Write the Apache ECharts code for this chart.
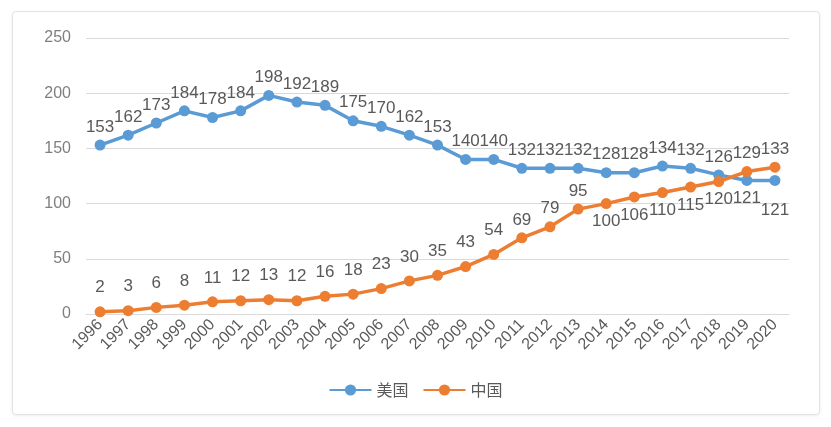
<!DOCTYPE html>
<html>
<head>
<meta charset="utf-8">
<script src="https://cdn.jsdelivr.net/npm/echarts@6/dist/echarts.min.js"></script>
<style>
  html, body { margin: 0; padding: 0; background: #fff; }
  #frame { position: absolute; left: 12px; top: 11px; width: 806px; height: 402px;
           border: 1px solid #e3e3e3; border-radius: 4px; box-shadow: 0 1px 3px rgba(0,0,0,0.08); }
  #chart { width: 831px; height: 427px; position: absolute; left: 0; top: 0; }
</style>
</head>
<body>
<div id="frame"></div>
<div id="chart"></div>
<script>
const years = ['1996','1997','1998','1999','2000','2001','2002','2003','2004','2005','2006','2007','2008',
  '2009','2010','2011','2012','2013','2014','2015','2016','2017','2018','2019','2020'];
const usValues = [153,162,173,184,178,184,198,192,189,175,170,162,153,140,140,132,132,132,128,128,134,132,126,121,121];
const cnValues = [2,3,6,8,11,12,13,12,16,18,23,30,35,43,54,69,79,95,100,106,110,115,120,129,133];
const yTicks = [0, 50, 100, 150, 200, 250];

// which labels sit under their point
const usBelow = ['2019', '2020'];
const cnBelow = ['2014', '2015', '2016', '2017', '2018'];

const labelFont = { fontSize: 17, color: '#595959', fontFamily: 'Liberation Sans' };

function makeData(values, below, name) {
  return values.map((v, i) => {
    const isBelow = below.indexOf(years[i]) >= 0;
    let offset = [0, 0];
    if (name === 'us' && years[i] === '2020') offset = [0, 12];
    if (name === 'cn' && !isBelow && i < 15) offset = [0, -6];
    return {
      value: v,
      label: { position: isBelow ? 'bottom' : 'top', offset: offset }
    };
  });
}

const chart = echarts.init(document.getElementById('chart'));
chart.setOption({
  animation: false,
  grid: { left: 86, right: 42, top: 38, bottom: 113 },
  legend: {
    bottom: 24,
    left: 'center',
    itemWidth: 42,
    itemHeight: 14,
    itemGap: 14,
    textStyle: { fontSize: 16, color: '#595959', fontFamily: 'Noto Sans CJK SC' },
    data: ['美国', '中国']
  },
  xAxis: {
    type: 'category',
    data: years,
    boundaryGap: true,
    axisLine: { show: true, lineStyle: { color: '#d9d9d9' } },
    axisTick: { show: false },
    axisLabel: { rotate: 45, interval: 0, fontSize: 16, color: '#595959', margin: 8,
                 fontFamily: 'Liberation Sans' }
  },
  yAxis: {
    type: 'value',
    min: yTicks[0],
    max: yTicks[yTicks.length - 1],
    interval: 50,
    axisLine: { show: false },
    axisTick: { show: false },
    splitLine: { lineStyle: { color: '#d9d9d9' } },
    axisLabel: { fontSize: 16, color: '#7f7f7f', margin: 15, fontFamily: 'Liberation Sans' }
  },
  series: [
    {
      name: '美国',
      type: 'line',
      data: makeData(usValues, usBelow, 'us'),
      symbol: 'circle',
      symbolSize: 11,
      lineStyle: { width: 3.5, color: '#5b9bd5' },
      itemStyle: { color: '#5b9bd5' },
      label: Object.assign({ show: true, distance: 4 }, labelFont)
    },
    {
      name: '中国',
      type: 'line',
      data: makeData(cnValues, cnBelow, 'cn'),
      symbol: 'circle',
      symbolSize: 11,
      lineStyle: { width: 3.5, color: '#ed7d31' },
      itemStyle: { color: '#ed7d31' },
      label: Object.assign({ show: true, distance: 4 }, labelFont)
    }
  ]
});
</script>
</body>
</html>
